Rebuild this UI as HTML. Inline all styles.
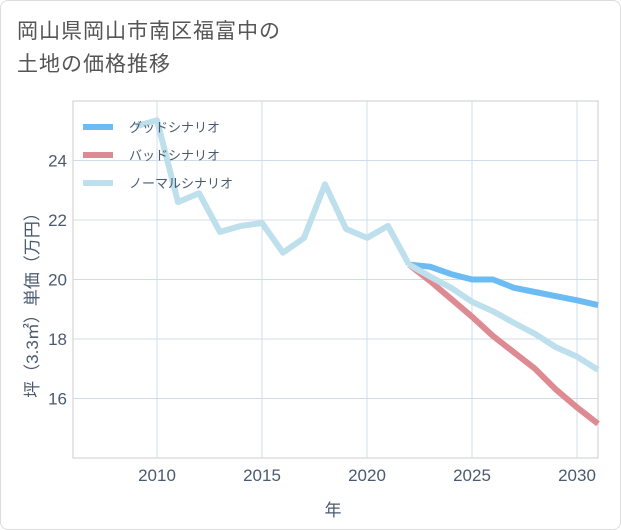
<!DOCTYPE html>
<html><head><meta charset="utf-8"><style>
body{margin:0;background:#fff;font-family:"Liberation Sans","Noto Sans CJK JP",sans-serif;}
#wrap{position:relative;width:619px;height:528px;border:1px solid #ddd;border-radius:8px;overflow:hidden;}
#title{position:absolute;left:16px;top:14px;font-size:21px;line-height:33px;color:#555;letter-spacing:1px;}
svg{position:absolute;left:0;top:0;}
</style></head><body>
<div id="wrap">
<div id="title">岡山県岡山市南区福富中の<br>土地の価格推移</div>
<svg id="chart" width="621" height="530"></svg>
</div>
<script>
const histYears=[2009,2010,2011,2012,2013,2014,2015,2016,2017,2018,2019,2020,2021,2022];
const histValues=[25.15,25.35,22.6,22.9,21.6,21.8,21.9,20.9,21.4,23.2,21.7,21.4,21.8,20.5];
const futYears=[2022,2023,2024,2025,2026,2027,2028,2029,2030,2031];
const goodValues=[20.5,20.43,20.18,20.0,20.0,19.72,19.58,19.44,19.3,19.14];
const badValues=[20.5,19.95,19.35,18.75,18.1,17.55,17.0,16.3,15.7,15.15];
const normalValues=[20.5,20.1,19.72,19.25,18.93,18.54,18.17,17.72,17.41,16.96];
const xTicks=[2010,2015,2020,2025,2030];
const yTicks=[16,18,20,22,24];
const X0=72,X1=597,Y0=100,Y1=457,xMin=2006,xMax=2031,yMin=14,yMax=26;
const sx=v=>X0+(v-xMin)/(xMax-xMin)*(X1-X0);
const sy=v=>Y1-(v-yMin)/(yMax-yMin)*(Y1-Y0);
const svg=document.getElementById('chart');
const NS='http://www.w3.org/2000/svg';
function mk(t,a,p){const e=document.createElementNS(NS,t);for(const k in a)e.setAttribute(k,a[k]);(p||svg).appendChild(e);return e;}
let e;
e=mk('rect',{x:X0,y:Y0,width:X1-X0,height:Y1-Y0,fill:'#fff',stroke:'#ccc'});


xTicks.forEach(t=>{
 e=mk('line',{x1:sx(t),x2:sx(t),y1:Y0,y2:Y1,stroke:'#d0dde8','stroke-width':1});
 
 
 e=mk('text',{x:sx(t),y:Y1+23,'text-anchor':'middle','font-size':17,fill:'#4a5a70'});e.textContent=t;
 
 
});
yTicks.forEach(t=>{
 e=mk('line',{x1:X0,x2:X1,y1:sy(t),y2:sy(t),stroke:'#d0dde8','stroke-width':1});
 
 
 e=mk('text',{x:X0-6,y:sy(t)+6,'text-anchor':'end','font-size':17,fill:'#4a5a70'});e.textContent=t;
 
 
});
e=mk('text',{x:332,y:515,'text-anchor':'middle','font-size':17,fill:'#4a5a70'});e.textContent='年';


e=mk('text',{x:0,y:0,'text-anchor':'middle','font-size':17,fill:'#4a5a70',transform:'translate(37,300) rotate(-90)'});e.textContent='坪（3.3㎡）単価（万円）';


function line(xs,vs,color,name){
 const d=xs.map((x,i)=>(i?'L':'M')+sx(x).toFixed(1)+','+sy(vs[i]).toFixed(1)).join(' ');
 const p=mk('path',{d:d,fill:'none',stroke:color,'stroke-width':6,'stroke-linejoin':'round'});
 
 
}
line(futYears,goodValues,'#6bbcf3','good-scenario-line');
line(futYears,badValues,'#de8a92','bad-scenario-line');
line(futYears,normalValues,'#bde0ec','normal-scenario-line');
line(histYears,histValues,'#bde0ec','historical-line');
const legendNames=['グッドシナリオ','バッドシナリオ','ノーマルシナリオ'];
const legendColors=['#6bbcf3','#de8a92','#bde0ec'];
legendNames.forEach((n,i)=>{
 const y=126+i*28;
 const g=mk('g',{});
 
 
 mk('line',{x1:82,x2:112,y1:y,y2:y,stroke:legendColors[i],'stroke-width':6},g);
 const t=mk('text',{x:128,y:y+5,'font-size':13,fill:'#4a5a70'},g);t.textContent=n;
});
</script>
</body></html>
